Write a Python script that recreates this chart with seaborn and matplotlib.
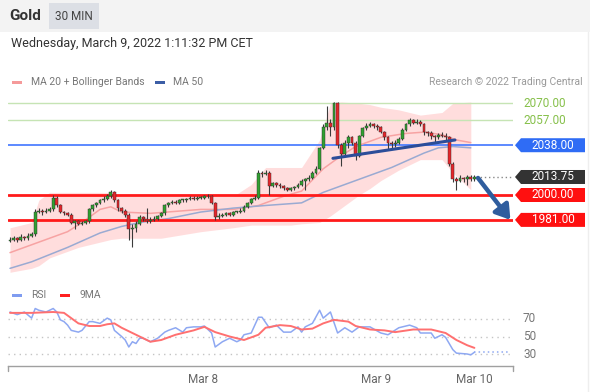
import numpy as np
import pandas as pd
import seaborn as sns
import matplotlib.pyplot as plt
from matplotlib.patches import Rectangle, Polygon
from matplotlib.lines import Line2D

W, H = 590, 392

# ---- candles (30 min) ----
opens = [1965, 1966, 1967, 1966, 1968, 1967, 1969, 1970, 1987, 1988,
         1987, 1988, 1989, 1998, 1992, 1987, 1986, 1985, 1979, 1980,
         1978, 1979, 1980, 1989, 1992, 1994, 1996, 1997, 1999, 2002,
         1996, 1990, 1988, 1985, 1974, 1975, 1978, 1983, 1982, 1980,
         1981, 1982, 1984, 1986, 1992, 1994, 1995, 1994, 1996, 1996,
         1997, 1998, 1997, 1998, 1998, 1999, 1999, 1994, 1983, 1984,
         1985, 1986, 1985, 1987, 1987, 1988, 1991, 1994, 1997, 1998,
         2017, 2016, 2017, 2007, 2009, 2008, 2007, 2005, 2004, 2005,
         2006, 2008, 2011, 2012, 2013, 2017, 2020, 2036, 2052, 2055,
         2052, 2070, 2038, 2031, 2040, 2044, 2040, 2030, 2045, 2051,
         2053, 2054, 2053, 2052, 2048, 2044, 2040, 2039, 2040, 2043,
         2050, 2054, 2057, 2055, 2056, 2054, 2048, 2047, 2045, 2044,
         2046, 2045, 2044, 2024, 2012, 2011, 2013, 2012, 2014, 2012]
closes = [1966, 1967, 1966, 1968, 1967, 1969, 1970, 1987, 1988, 1987,
          1988, 1989, 1998, 1992, 1987, 1986, 1985, 1979, 1980, 1978,
          1979, 1980, 1989, 1992, 1994, 1996, 1997, 1999, 2002, 1996,
          1990, 1988, 1985, 1974, 1975, 1978, 1983, 1982, 1980, 1981,
          1982, 1984, 1986, 1992, 1994, 1995, 1994, 1996, 1996, 1997,
          1998, 1997, 1998, 1998, 1999, 1999, 1994, 1983, 1984, 1985,
          1986, 1985, 1987, 1987, 1988, 1991, 1994, 1997, 1998, 2017,
          2016, 2017, 2007, 2009, 2008, 2007, 2005, 2004, 2005, 2006,
          2008, 2011, 2012, 2013, 2017, 2020, 2036, 2052, 2055, 2052,
          2070, 2038, 2031, 2040, 2044, 2040, 2030, 2045, 2051, 2053,
          2054, 2053, 2052, 2048, 2044, 2040, 2039, 2040, 2043, 2050,
          2054, 2057, 2055, 2056, 2054, 2048, 2047, 2045, 2044, 2046,
          2045, 2044, 2024, 2012, 2011, 2013, 2012, 2014, 2012, 2013.75]
highs = [1968, 1969, 1968, 1970, 1969, 1971, 1972, 1989, 1990, 1989,
         1990, 1991, 2000, 1999, 1993, 1988, 1987, 1986, 1981, 1981,
         1980, 1981, 1990, 1993, 1995, 1997, 1999, 2001, 2004, 2003,
         1997, 1991, 1989, 1986, 1978, 1980, 1985, 1984, 1990, 1983,
         1984, 1985, 1987, 1993, 1995, 1996, 1996, 1997, 1997, 1998,
         1999, 1999, 1999, 1999, 2000, 2001, 2000, 1995, 1986, 1986,
         1987, 1987, 1988, 1988, 1990, 1992, 1995, 1998, 2000, 2019,
         2018, 2019, 2018, 2010, 2010, 2009, 2008, 2006, 2006, 2007,
         2009, 2012, 2013, 2015, 2018, 2022, 2037, 2054, 2068, 2058,
         2071, 2071, 2040, 2042, 2046, 2045, 2041, 2046, 2052, 2055,
         2056, 2055, 2054, 2053, 2049, 2045, 2041, 2042, 2044, 2051,
         2055, 2059, 2058, 2058, 2057, 2055, 2049, 2049, 2046, 2047,
         2048, 2047, 2045, 2025, 2014, 2015, 2014, 2015, 2015, 2015]
lows = [1964, 1965, 1964, 1965, 1966, 1966, 1968, 1969, 1986, 1985,
        1986, 1987, 1988, 1991, 1986, 1985, 1984, 1978, 1974, 1977,
        1977, 1978, 1979, 1988, 1991, 1993, 1995, 1996, 1998, 1995,
        1988, 1986, 1983, 1966, 1960, 1972, 1977, 1980, 1979, 1979,
        1980, 1981, 1983, 1985, 1991, 1993, 1993, 1993, 1995, 1995,
        1996, 1996, 1996, 1997, 1997, 1998, 1993, 1981, 1982, 1983,
        1984, 1984, 1984, 1986, 1986, 1987, 1990, 1993, 1996, 1997,
        2014, 2015, 2000, 2006, 2006, 2005, 2004, 2003, 2003, 2004,
        2005, 2007, 2004, 2011, 2012, 2016, 2019, 2035, 2050, 2045,
        2050, 2036, 2022, 2030, 2036, 2038, 2027, 2029, 2044, 2050,
        2052, 2051, 2050, 2047, 2042, 2035, 2036, 2037, 2039, 2042,
        2049, 2053, 2054, 2054, 2053, 2046, 2045, 2043, 2040, 2043,
        2044, 2042, 2022, 2010, 2004, 2010, 2010, 2008, 2011, 2011]

# ---- indicators (read at selected candle indices) ----
ma20_idx = [0, 6, 11, 16, 20, 25, 28, 31, 39, 53, 62, 69, 76, 81, 87, 92, 96, 103, 110, 115, 120, 124, 128]
ma20_val = [1956, 1962, 1967, 1972, 1979, 1989, 1991, 1987, 1986, 1989, 1989, 1992, 1999, 2003, 2020, 2030, 2037, 2044, 2047, 2048, 2046, 2042, 2040]
ma50_idx = [0, 6, 16, 25, 31, 36, 44, 53, 62, 71, 81, 87, 96, 106, 115, 119, 123, 128]
ma50_val = [1944, 1949, 1960, 1971, 1976, 1979, 1982, 1987, 1990, 1992, 1994, 2002, 2011, 2021, 2032, 2036, 2037, 2036]
band_idx = [0, 6, 8, 11, 19, 28, 31, 42, 53, 62, 67, 71, 78, 81, 86, 89, 92, 97, 100, 103, 108, 114, 120, 123, 128]
band_up = [1975, 1979, 1996, 2002, 2002, 2002, 1999, 1999, 1999, 1999, 2008, 2021, 2021, 2021, 2042, 2070, 2071, 2070, 2069, 2067, 2065, 2061, 2063, 2070, 2071]
band_lo = [1941, 1944, 1946, 1952, 1960, 1966, 1967, 1967, 1972, 1975, 1977, 1977, 1977, 1978, 1979, 1984, 1990, 2000, 2005, 2011, 2019, 2027, 2027, 2017, 2004]

rsi_idx = [0, 2, 4, 6, 7, 8, 10, 12, 13, 14, 15, 16, 17, 19, 20, 22, 23, 25, 27, 28,
           29, 31, 32, 33, 34, 35, 36, 37, 39, 41, 43, 44, 46, 48, 49, 51, 53, 54, 56, 57,
           59, 61, 63, 64, 65, 67, 69, 70, 72, 74, 76, 78, 80, 81, 82, 84, 86, 87, 89, 91,
           93, 95, 97, 100, 103, 105, 108, 111, 113, 114, 117, 118, 120, 121, 123, 124, 127, 128, 129]
rsi_val = [78, 75, 78, 71, 82, 80, 78, 82, 78, 69, 67, 63, 57, 55, 57, 67, 67, 65, 71, 69,
           57, 50, 46, 38, 44, 42, 48, 48, 44, 48, 55, 57, 60, 55, 60, 61, 61, 62, 54, 38,
           44, 48, 44, 46, 52, 54, 72, 72, 60, 63, 55, 55, 61, 55, 61, 65, 80, 71, 78, 54,
           60, 55, 61, 61, 54, 52, 60, 63, 60, 54, 54, 48, 52, 49, 35, 31, 30, 29, 32]
rsi_ma_idx = [0, 6, 12, 15, 17, 19, 22, 25, 27, 29, 31, 34, 37, 39, 42, 46, 51, 54, 57, 61,
              65, 69, 71, 75, 78, 81, 84, 87, 90, 94, 96, 100, 104, 107, 112, 117, 121, 124, 127, 129]
rsi_ma_val = [77, 77, 78, 77, 71, 65, 62, 62, 64, 65, 60, 54, 48, 44, 46, 52, 57, 61, 55, 50,
              46, 52, 60, 63, 62, 58, 59, 65, 69, 67, 62, 58, 57, 55, 58, 58, 54, 46, 40, 37]

levels_green = [2070.00, 2057.00]
level_pivot = 2038.00
level_last = 2013.75
levels_red = [2000.00, 1981.00]
trend_idx = [89.7, 123.6]
trend_val = [2028, 2042]
arrow_idx = [130, 139]
arrow_val = [2013, 1981]
rsi_levels = [70, 50, 30]
date_idx = [53.6, 101.7, 128.9]
date_labels = ["Mar 8", "Mar 9", "Mar 10"]

sns.set_theme(style="white")
plt.rcParams['font.family'] = ['Roboto', 'DejaVu Sans']

fig = plt.figure(figsize=(W / 100, H / 100), dpi=100)
fig.patch.set_facecolor('white')


def fx(x):
    return x / W


def fy(y):
    return 1 - y / H


# header
fig.add_artist(Rectangle((0, fy(32)), 1, 32 / H, transform=fig.transFigure, color='#f3f3f3', lw=0))
fig.add_artist(Rectangle((fx(49), fy(29)), fx(99) - fx(49), 26 / H, transform=fig.transFigure,
                         color='#dcdfe5', lw=0))
fig.text(fx(9), fy(16), "Gold", fontsize=11, fontweight='bold', color='#333333', va='center')
fig.text(fx(74), fy(16), "30 MIN", fontsize=8.5, color='#444444', va='center', ha='center')
fig.text(fx(11), fy(44), "Wednesday, March 9, 2022 1:11:32 PM CET", fontsize=9, color='#333333', va='center')
fig.add_artist(Line2D([fx(588), fx(588)], [fy(32), 0], transform=fig.transFigure, color='#eeeeee', lw=1))

# legends
fig.add_artist(Rectangle((fx(12), fy(84)), fx(10), 3.5 / H, transform=fig.transFigure, color='#f59a9a', lw=0))
fig.text(fx(31), fy(82), "MA 20 + Bollinger Bands", fontsize=7.5, color='#777777', va='center')
fig.add_artist(Rectangle((fx(155), fy(84)), fx(10), 3.5 / H, transform=fig.transFigure, color='#3c5ea6', lw=0))
fig.text(fx(173), fy(82), "MA 50", fontsize=7.5, color='#777777', va='center')
fig.text(fx(583), fy(82), "Research © 2022 Trading Central", fontsize=7.5, color='#9a9a9a', va='center', ha='right')
fig.add_artist(Rectangle((fx(12), fy(297)), fx(10), 3.5 / H, transform=fig.transFigure, color='#7f9cf0', lw=0))
fig.text(fx(31), fy(295), "RSI", fontsize=7.5, color='#777777', va='center')
fig.add_artist(Rectangle((fx(60), fy(297)), fx(10), 3.5 / H, transform=fig.transFigure, color='#ff2020', lw=0))
fig.text(fx(79), fy(295), "9MA", fontsize=7.5, color='#777777', va='center')

# ---- main price panel ----
ax = fig.add_axes([fx(8), fy(275), fx(513) - fx(8), fy(95) - fy(275)])
ax.set_xlim(-0.556, 139.72)
ax.set_ylim(2000 - 80 / 1.31, 2000 + 100 / 1.31)
ax.axis('off')

ax.fill_between(band_idx, band_lo, band_up, color='#ffd8d8', alpha=0.85, lw=0, zorder=1)
sns.lineplot(x=ma20_idx, y=ma20_val, ax=ax, color='#f7a3a3', lw=1.1, zorder=2)
sns.lineplot(x=ma50_idx, y=ma50_val, ax=ax, color='#9aaad2', lw=1.1, zorder=2)

for lv in levels_green:
    ax.axhline(lv, color='#c6e4b4', lw=1, zorder=1)
ax.axhline(level_pivot, color='#4f80ff', lw=1.3, zorder=1)
for lv in levels_red:
    ax.axhline(lv, color='#ff1a1a', lw=2, zorder=3)

idx = np.arange(len(closes))
for i in idx:
    o, c = opens[i], closes[i]
    col = '#31a031' if c >= o else '#e5262a'
    ax.vlines(i, lows[i], highs[i], color='#3a3a3a', lw=0.8, zorder=4)
    ax.bar(i, max(abs(c - o), 0.6), bottom=min(o, c), width=0.8, color=col,
           edgecolor='#2a2a2a', lw=0.3, zorder=5)

ax.plot(trend_idx, trend_val, color='#2c4d99', lw=2.2, zorder=6, solid_capstyle='round')
ax.plot([len(closes) - 0.5, 139.72], [level_last, level_last], color='#888888', lw=1,
        ls=(0, (1, 2)), zorder=3)
ax.annotate('', xy=(arrow_idx[1], arrow_val[1]), xytext=(arrow_idx[0], arrow_val[0]),
            arrowprops=dict(arrowstyle='-|>,head_width=0.45,head_length=0.7', color='#2f5d9e',
                            lw=3.2, shrinkA=0, shrinkB=0), zorder=7)

# price labels on the right
tr = ax.get_yaxis_transform()
ax_w = 505.0


def axx(px):
    return (px - 8) / ax_w


def tag(price, text, fc):
    h = 7 / 1.31
    pts = [(axx(515), price), (axx(521), price + h), (axx(585), price + h),
           (axx(585), price - h), (axx(521), price - h)]
    ax.add_patch(Polygon(pts, closed=True, transform=tr, color=fc, lw=0, clip_on=False))
    ax.text(axx(553), price, text, transform=tr, color='white', fontsize=8.5,
            ha='center', va='center', clip_on=False)


for lv in levels_green:
    ax.text(axx(523), lv, f"{lv:.2f}", transform=tr, color='#86c04a', fontsize=8.5,
            va='center', ha='left', clip_on=False)
tag(level_pivot, f"{level_pivot:.2f}", '#2f6cf5')
tag(level_last, f"{level_last:.2f}", '#333333')
for lv in levels_red:
    tag(lv, f"{lv:.2f}", '#ff1010')

# ---- RSI panel ----
ax2 = fig.add_axes([fx(8), fy(366), fx(513) - fx(8), fy(296) - fy(366)])
ax2.set_xlim(-0.556, 139.72)
rsi_bottom = 50 - (366 - 336.5) / 0.875
ax2.set_ylim(rsi_bottom, 50 + (336.5 - 296) / 0.875)
for s in ['top', 'left', 'right']:
    ax2.spines[s].set_visible(False)
ax2.spines['bottom'].set_color('#a0a0a0')
ax2.spines['bottom'].set_linewidth(1)
ax2.set_yticks([])
ax2.set_facecolor('none')

for lv in rsi_levels:
    ax2.axhline(lv, color='#c4c4c4', lw=1, ls=(0, (1, 3)))
    ax2.text(axx(523), lv, str(lv), transform=ax2.get_yaxis_transform(), color='#777777',
             fontsize=8.5, va='center', ha='left', clip_on=False)

sns.lineplot(x=rsi_idx, y=rsi_val, ax=ax2, color='#8ea8f2', lw=1.1)
sns.lineplot(x=rsi_ma_idx, y=rsi_ma_val, ax=ax2, color='#ff7070', lw=1.4)
ax2.plot([rsi_idx[-1], 138.5], [rsi_val[-1], rsi_val[-1]], color='#8ea8f2', lw=1.1, ls=(0, (1, 2)))

x0, x1 = ax2.get_xlim()
for xe in (x0, x1):
    ax2.plot([xe, xe], [rsi_bottom, rsi_bottom - 5.5], color='#a0a0a0', lw=1, clip_on=False)

ax2.set_xticks(date_idx)
ax2.set_xticklabels(date_labels)
ax2.tick_params(axis='x', length=0, pad=5, labelsize=8.5, labelcolor='#666666')

fig.savefig("out.png", dpi=100)
